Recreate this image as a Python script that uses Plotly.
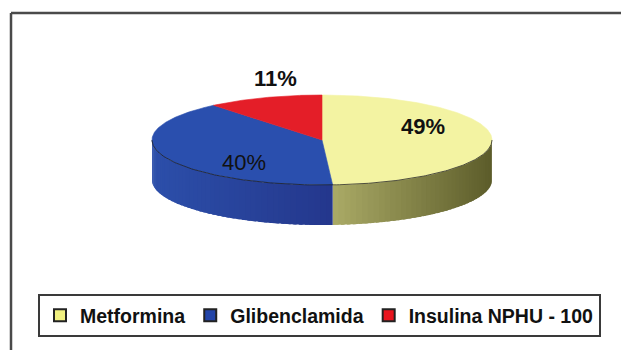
import numpy as np
import plotly.graph_objects as go

# ---- data ----
labels = ["Metformina", "Glibenclamida", "Insulina NPHU - 100"]
values = [49, 40, 11]
pct_text = ["49%", "40%", "11%"]

# ---- style ----
top_colors = ["#F3F3A2", "#2A4FAE", "#E41E28"]
side_light = ["#AAAA66", "#2C4FAA", "#A51820"]
side_dark = ["#5C5C2A", "#24378C", "#6E0C12"]
legend_colors = ["#F0F080", "#2244A8", "#E8141E"]
label_weight = ["bold", "normal", "bold"]
label_k = [0.594, 0.493, 0.816]     # radial factor for label placement
label_dy = [-13, 14, -27]           # vertical shift for label placement

W, H = 621, 350
CX, CY, RX, RY, DEPTH = 322, 140, 170, 45, 40

vals = np.array(values, dtype=float)
fr = vals / vals.sum()
ends = np.cumsum(fr) * 360.0
starts = np.concatenate([[0.0], ends[:-1]])


def ell(theta_deg, dy=0.0):
    t = np.radians(theta_deg)
    return CX + RX * np.sin(t), CY - RY * np.cos(t) + dy


def hex2rgb(h):
    h = h.lstrip("#")
    return np.array([int(h[i:i + 2], 16) for i in (0, 2, 4)], dtype=float)


def mix(c1, c2, t):
    c = hex2rgb(c1) * (1 - t) + hex2rgb(c2) * t
    return "rgb(%d,%d,%d)" % tuple(np.round(c).astype(int))


fig = go.Figure()

# ---- side walls (visible front half: 90..270 deg) ----
for i in range(len(values)):
    a = max(starts[i], 90.0)
    b = min(ends[i], 270.0)
    if b <= a:
        continue
    xa, _ = ell(a)
    xb, _ = ell(b)
    xl, xr = min(xa, xb), max(xa, xb)
    n = max(2, int((b - a) / 2.0))
    edges = np.linspace(a, b, n + 1)
    for j in range(n):
        t0 = edges[j]
        t1 = min(edges[j + 1] + 1.2, b)
        th = np.linspace(t0, t1, 5)
        xt, yt = ell(th)
        xbt, ybt = ell(th[::-1], DEPTH)
        xs = np.concatenate([xt, xbt, xt[:1]])
        ys = np.concatenate([yt, ybt, yt[:1]])
        xm, _ = ell((edges[j] + edges[j + 1]) / 2)
        tt = (xm - xl) / (xr - xl) if xr > xl else 0.5
        col = mix(side_light[i], side_dark[i], tt)
        fig.add_trace(go.Scatter(x=xs, y=ys, fill="toself", fillcolor=col,
                                 mode="none", hoverinfo="skip", showlegend=False))

# ---- top faces ----
for i in range(len(values)):
    th = np.linspace(starts[i], ends[i], max(3, int((ends[i] - starts[i]) * 2)))
    xt, yt = ell(th)
    xs = np.concatenate([[CX], xt, [CX]])
    ys = np.concatenate([[CY], yt, [CY]])
    fig.add_trace(go.Scatter(x=xs, y=ys, fill="toself", fillcolor=top_colors[i],
                             mode="lines", line=dict(color=top_colors[i], width=0.6),
                             hoverinfo="skip", showlegend=False))

# front edge outline of top face
th = np.linspace(90, 270, 200)
xe, ye = ell(th)
fig.add_trace(go.Scatter(x=xe, y=ye, mode="lines",
                         line=dict(color="rgba(25,25,25,0.75)", width=1),
                         hoverinfo="skip", showlegend=False))

# ---- legend entries ----
for i in range(len(values)):
    fig.add_trace(go.Scatter(x=[None], y=[None], mode="markers", name=labels[i],
                             marker=dict(symbol="square", size=10, color=legend_colors[i],
                                         line=dict(color="#222222", width=1))))

# ---- percentage labels ----
for i in range(len(values)):
    mid = (starts[i] + ends[i]) / 2
    t = np.radians(mid)
    lx = CX + RX * label_k[i] * np.sin(t)
    ly = CY - RY * label_k[i] * np.cos(t) + label_dy[i]
    fig.add_annotation(x=lx, y=ly, text=pct_text[i], showarrow=False,
                       xref="x", yref="y",
                       font=dict(family="Liberation Sans, Arial", size=22,
                                 color="#111111", weight=label_weight[i]))

# ---- chart-area frame (top and left edges) ----
fig.add_shape(type="line", xref="x", yref="y", x0=11, y0=13, x1=W, y1=13,
              line=dict(color="#4a4a4a", width=2.5))
fig.add_shape(type="line", xref="x", yref="y", x0=11, y0=13, x1=11, y1=H,
              line=dict(color="#4a4a4a", width=2.5))

fig.update_layout(
    width=W, height=H,
    margin=dict(l=0, r=0, t=0, b=0),
    paper_bgcolor="white", plot_bgcolor="white",
    xaxis=dict(range=[0, W], visible=False, fixedrange=True),
    yaxis=dict(range=[H, 0], visible=False, fixedrange=True),
    showlegend=True,
    legend=dict(orientation="h", x=38 / W, xanchor="left",
                y=1 - 294 / H, yanchor="top",
                bgcolor="white", bordercolor="#3a3a3a", borderwidth=2,
                font=dict(family="Liberation Sans, Arial", size=19.5,
                          color="#111111", weight="bold"),
                itemsizing="constant"),
)

fig.write_html("out.html")
